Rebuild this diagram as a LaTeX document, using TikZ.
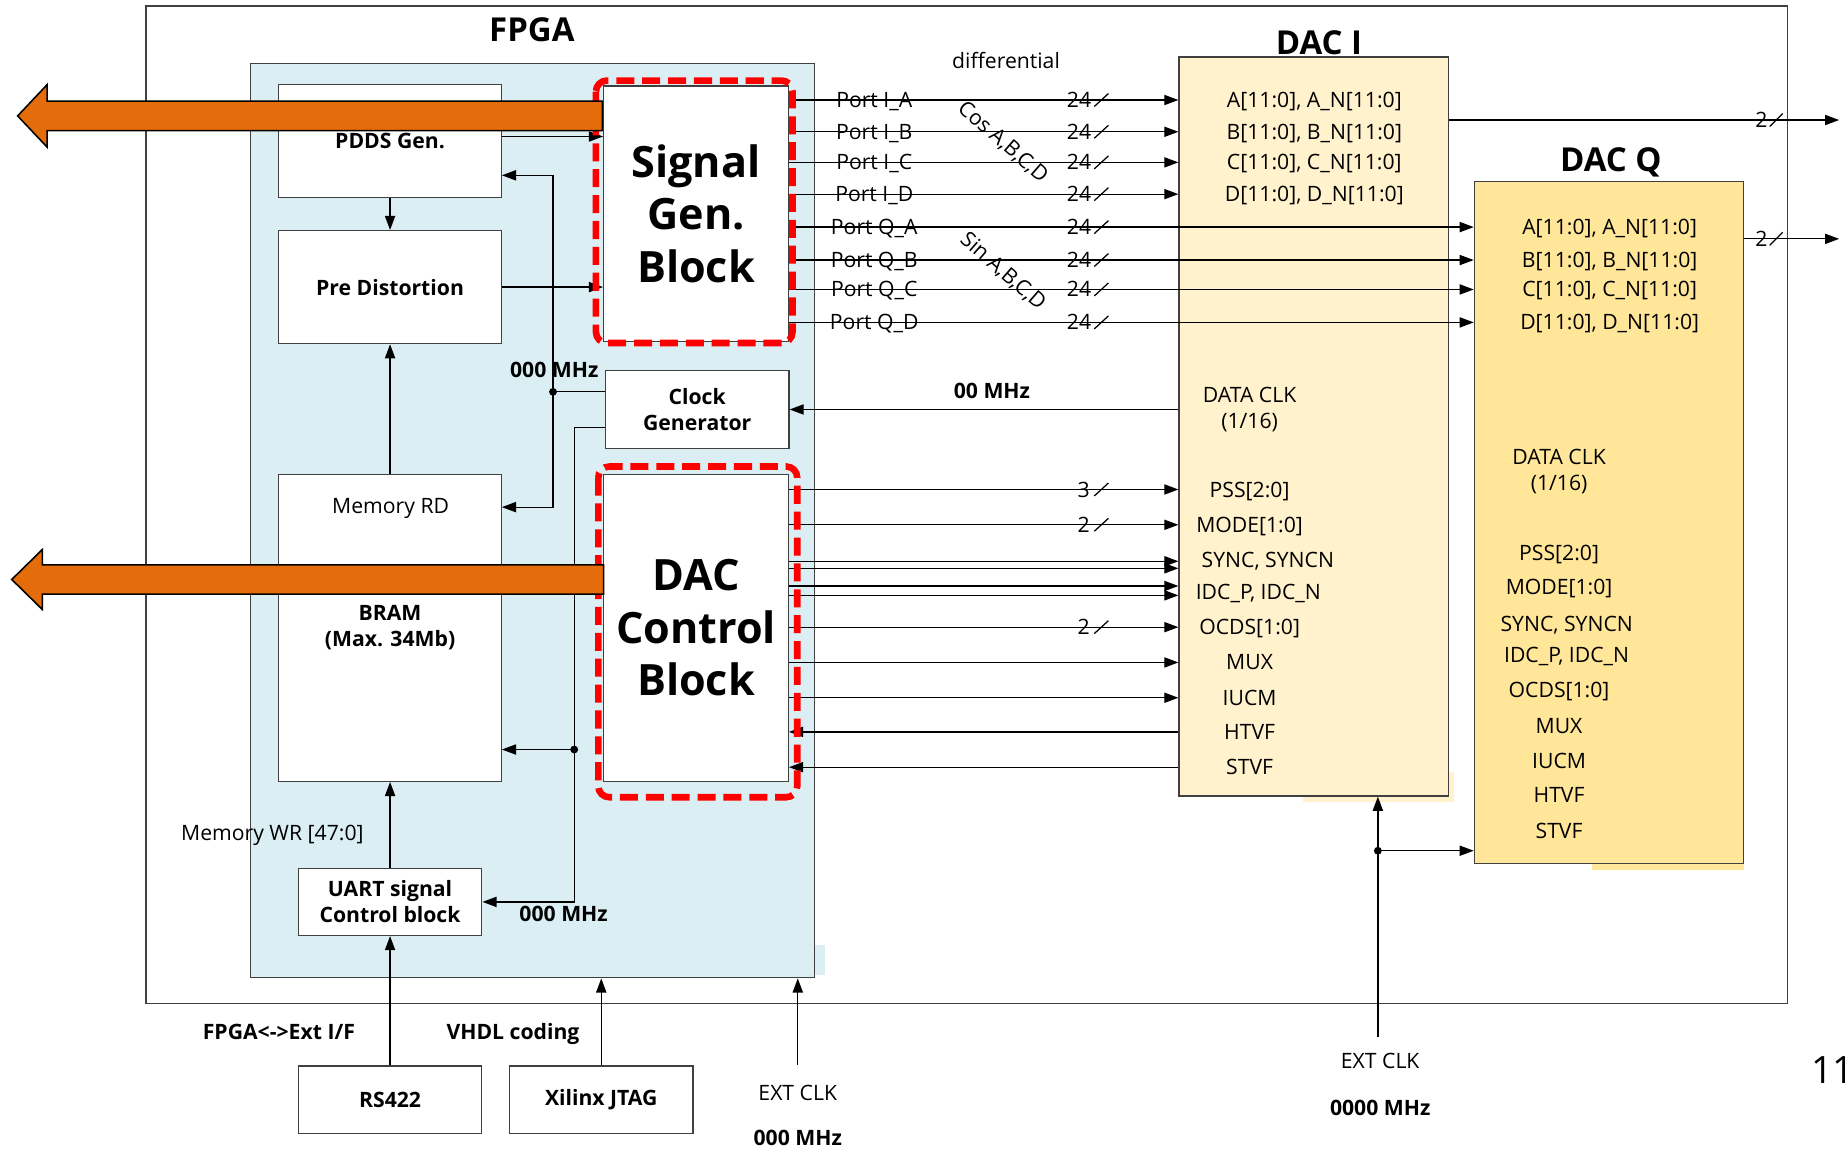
\documentclass[tikz,border=0pt]{standalone}
\usepackage{fontspec}
\setmainfont{Open Sans}
\usetikzlibrary{arrows.meta}

\definecolor{fpgablue}{HTML}{DAEEF3}
\definecolor{daciyel}{HTML}{FFF2CC}
\definecolor{dacqyel}{HTML}{FFE699}
\definecolor{orng}{HTML}{E46C0A}
\definecolor{edgegray}{HTML}{404040}

\tikzset{
  sz/.style 2 args={minimum width=#1*0.75pt,minimum height=#2*0.75pt},
  txt/.style={font=\fontsize{13.5}{16.5}\selectfont,inner sep=0pt,text height=12.6pt,text depth=3pt},
  btxt/.style={txt,font=\bfseries\fontsize{13.5}{16.5}\selectfont},
  mtxt/.style={font=\fontsize{13.5}{16.5}\selectfont,inner sep=0pt,align=center},
  ttl/.style={font=\bfseries\fontsize{21}{25}\selectfont,inner sep=0pt,text height=19pt,text depth=4pt},
  frame/.style={draw=edgegray,line width=0.8pt,inner sep=0pt},
  blk/.style={frame,fill=white,align=center,font=\bfseries\fontsize{13.5}{16.5}\selectfont},
  bigblk/.style={blk,font=\bfseries\fontsize{27.5}{33.5}\selectfont},
  wire/.style={line width=0.8pt},
  arr/.style={wire,-{Triangle[length=9pt,width=6.5pt]}},
  jdot/.style={circle,fill,inner sep=0pt,minimum size=5pt},
  reddash/.style={draw=red,line width=4.2pt,dash pattern=on 11.5pt off 5pt,rounded corners=7pt},
  bigarrow/.style={draw=black,line width=1pt,fill=orng}
}

\begin{document}
\begin{tikzpicture}[x=0.75pt,y=-0.75pt]
\useasboundingbox (0,0) rectangle (1568,977);

% frames
\node[frame,sz={1395}{848}] (board) at (821.5,429) {};
\fill[fpgablue] (692,803) rectangle (701,829);
\fill[daciyel] (1107,656) rectangle (1236,682);
\fill[dacqyel] (1353,734) rectangle (1482,739);
\node[frame,fill=fpgablue,sz={479}{777}] (fpga) at (452.5,442.5) {};
\node[frame,fill=daciyel,sz={229}{628}] (daci) at (1116.5,362.5) {};
\node[frame,fill=dacqyel,sz={229}{580}] (dacq) at (1367.5,444) {};
\node[ttl] (fpgat) at (452,25) {FPGA};
\node[ttl] (dacit) at (1121,36) {DAC I};
\node[ttl] (dacqt) at (1369,136) {DAC Q};

% FPGA blocks
\node[blk,sz={189}{96}] (pdds) at (331.5,120) {PDDS Gen.};
\node[blk,sz={189}{96}] (pre) at (331.5,244) {Pre Distortion};
\node[blk,sz={189}{261}] (bram) at (331.5,533.5) {BRAM\\(Max. 34Mb)};
\node[txt] (memrd) at (332,430) {Memory RD};
\node[blk,sz={156}{57}] (uart) at (331.5,766.5) {UART signal\\Control block};
\node[blk,sz={156}{57}] (rs) at (331.5,934.5) {RS422};
\node[blk,sz={156}{57}] (jtag) at (511,934.5) {Xilinx JTAG};
\node[bigblk,sz={157}{217}] (sig) at (591.5,181.5) {Signal\\Gen.\\Block};
\node[blk,sz={156}{66}] (clk) at (592.5,348) {Clock\\Generator};
\node[bigblk,sz={157}{261}] (dcb) at (591.5,533.5) {DAC\\Control\\Block};

% inside FPGA
\draw[arr] (pdds.east |- 0,116) -- (sig.west |- 0,116);
\draw[arr] (pdds.south) -- (pre.north);
\draw[arr] (pre.east) -- (pre.east -| sig.west);
\draw[arr] (bram.north) -- (pre.south);
\draw[arr] (uart.north) -- (bram.south);
\draw[arr] (rs.north) -- (uart.south);
\coordinate (j1) at (470,333);
\coordinate (j2) at (488,637);
\draw[wire] (clk.west |- j1) -- (j1);
\draw[arr] (j1) |- (pdds.east |- 0,149);
\draw[arr] (j1) |- (bram.east |- 0,431);
\draw[wire] (clk.west |- 0,363) -| (j2);
\draw[arr] (j2) -- (j2 -| bram.east);
\draw[arr] (j2) |- (uart.east);
\node[jdot] (j1d) at (j1) {};
\node[jdot] (j2d) at (j2) {};
\node[btxt] (f1) at (471,314) {000 MHz};
\node[btxt] (f2) at (479,777) {000 MHz};
\node[txt] (memwr) at (231.5,708) {Memory WR [47:0]};

% bottom inputs
\draw[arr] (jtag.north) -- (jtag.north |- fpga.south);
\coordinate (ext1) at (678,905);
\draw[arr] (ext1) -- (ext1 |- fpga.south);
\node[btxt] (ifl) at (237,877) {FPGA<->Ext I/F};
\node[btxt] (vhdl) at (436,877) {VHDL coding};
\node[txt] (ext1l) at (678,929) {EXT CLK};
\node[btxt] (ext1f) at (678,967) {000 MHz};

% data ports
\node[txt] (diff) at (855,52) {differential};
\foreach \p/\y [count=\k] in {I\_A/85,I\_B/112,I\_C/138,I\_D/165}{
  \draw[arr] (sig.east |- 0,\y) -- (daci.west |- 0,\y);
  \node[txt] (pi\k) at (743,\y) {Port \p};
  \node[txt] (bi\k) at (917,\y) {24};
  \draw[wire] (930,\y+5.5) -- (942,\y-5.5);
}
\foreach \p/\y [count=\k] in {Q\_A/193,Q\_B/221,Q\_C/246,Q\_D/274}{
  \draw[arr] (sig.east |- 0,\y) -- (dacq.west |- 0,\y);
  \node[txt] (pq\k) at (743,\y) {Port \p};
  \node[txt] (bq\k) at (917,\y) {24};
  \draw[wire] (930,\y+5.5) -- (942,\y-5.5);
}
\node[txt,rotate=-41] (cosl) at (853,120) {Cos A,B,C,D};
\node[txt,rotate=-41] (sinl) at (853,230) {Sin A,B,C,D};
\foreach \lt/\y [count=\k] in {A/85,B/112,C/138,D/165}
  \node[txt] (di\k) at (1117,\y) {\lt[11:0], \lt\_N[11:0]};
\foreach \lt/\y [count=\k] in {A/193,B/221,C/246,D/274}
  \node[txt] (dq\k) at (1368,\y) {\lt[11:0], \lt\_N[11:0]};

% DAC outputs
\coordinate (outi) at (1563,102);
\coordinate (outq) at (1563,203);
\draw[arr] (daci.east |- outi) -- (outi);
\draw[arr] (dacq.east |- outq) -- (outq);
\node[txt] (bo1) at (1497,102) {2};
\draw[wire] (1504,107.5) -- (1515,96.5);
\node[txt] (bo2) at (1497,203) {2};
\draw[wire] (1504,208.5) -- (1515,197.5);

% clock and control
\draw[arr] (daci.west |- clk.east) -- (clk.east);
\node[btxt] (f3) at (843,332) {00 MHz};
\foreach \y in {416,446,477,483,498,506,533,563,593}
  \draw[arr] (dcb.east |- 0,\y) -- (daci.west |- 0,\y);
\foreach \y in {622,652}
  \draw[arr] (daci.west |- 0,\y) -- (dcb.east |- 0,\y);
\foreach \n/\y [count=\k] in {3/416,2/446,2/533}{
  \node[txt] (bc\k) at (921,\y) {\n};
  \draw[wire] (930,\y+5.5) -- (942,\y-5.5);
}
\node[mtxt] (dclki) at (1062,348) {DATA CLK\\(1/16)};
\node[txt] (pssi) at (1062,416) {PSS[2:0]};
\node[txt] (modei) at (1062,446) {MODE[1:0]};
\node[txt,anchor=west] (synci) at (1021,476) {SYNC, SYNCN};
\node[txt,anchor=west] (idci) at (1016,503) {IDC\_P, IDC\_N};
\node[txt] (ocdsi) at (1062,533) {OCDS[1:0]};
\node[txt] (muxi) at (1062,563) {MUX};
\node[txt] (iucmi) at (1062,593) {IUCM};
\node[txt] (htvfi) at (1062,622) {HTVF};
\node[txt] (stvfi) at (1062,652) {STVF};
\node[mtxt] (dclkq) at (1325,401) {DATA CLK\\(1/16)};
\node[txt] (pssq) at (1325,470) {PSS[2:0]};
\node[txt] (modeq) at (1325,499) {MODE[1:0]};
\node[txt,anchor=west] (syncq) at (1275,530) {SYNC, SYNCN};
\node[txt,anchor=west] (idcq) at (1278,557) {IDC\_P, IDC\_N};
\node[txt] (ocdsq) at (1325,586) {OCDS[1:0]};
\node[txt] (muxq) at (1325,617) {MUX};
\node[txt] (iucmq) at (1325,647) {IUCM};
\node[txt] (htvfq) at (1325,676) {HTVF};
\node[txt] (stvfq) at (1325,706) {STVF};

% external clock to DACs
\coordinate (ext2) at (1171,881);
\coordinate (j3) at (1171,723);
\draw[arr] (ext2) -- (ext2 |- daci.south);
\draw[arr] (j3) -- (j3 -| dacq.west);
\node[jdot] (j3d) at (j3) {};
\node[txt] (ext2l) at (1173,902) {EXT CLK};
\node[btxt] (ext2f) at (1173,942) {0000 MHz};

% highlights
\draw[reddash] ([shift={(-6,-4)}]sig.north west) rectangle ([shift={(3,1)}]sig.south east);
\draw[reddash] ([shift={(-4,-6)}]dcb.north west) rectangle ([shift={(7,13)}]dcb.south east);
\draw[bigarrow] (512,86) -- (40,86) -- (40,72) -- (15,98.5) -- (40,125) -- (40,111) -- (512,111) -- cycle;
\draw[bigarrow] (513,480) -- (36,480) -- (36,467) -- (10,492.5) -- (36,518) -- (36,505) -- (513,505) -- cycle;

\node[font=\fontsize{24}{28}\selectfont,inner sep=0pt,anchor=west] (pgnum) at (1539,909) {11};
\end{tikzpicture}
\end{document}
